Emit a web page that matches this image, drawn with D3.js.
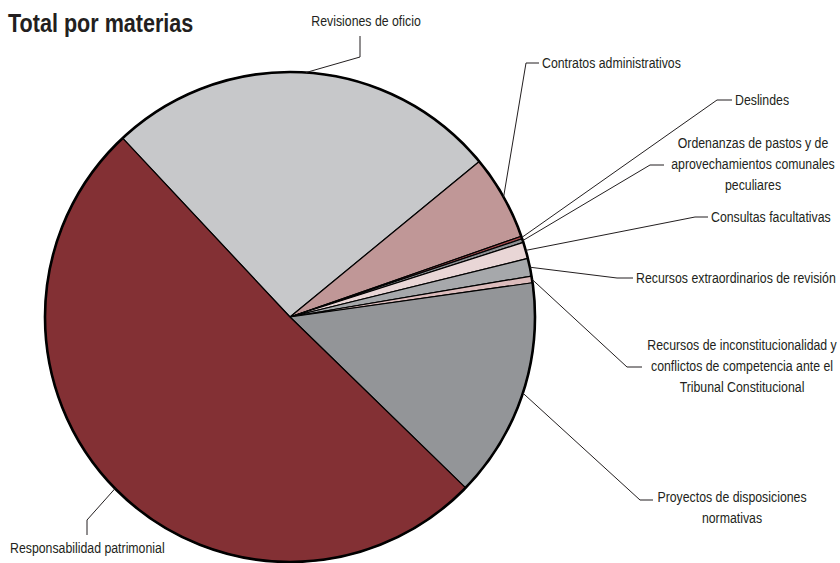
<!DOCTYPE html>
<html>
<head>
<meta charset="utf-8">
<script src="https://cdn.jsdelivr.net/npm/d3@7/dist/d3.min.js"></script>
<style>
  html, body { margin: 0; padding: 0; background: #ffffff; }
  svg { display: block; }
  text { font-family: "Liberation Sans Narrow", "Arial Narrow", "Liberation Sans", sans-serif; fill: #231f20; }
</style>
</head>
<body>
<svg id="chart" width="840" height="563"></svg>
<script>
// ---- Data ----
const categories = [
  "Revisiones de oficio",
  "Contratos administrativos",
  "Deslindes",
  "Ordenanzas de pastos y de aprovechamientos comunales peculiares",
  "Consultas facultativas",
  "Recursos extraordinarios de revisión",
  "Recursos de inconstitucionalidad y conflictos de competencia ante el Tribunal Constitucional",
  "Proyectos de disposiciones normativas",
  "Responsabilidad patrimonial"
];
const values = [26.0, 5.6, 0.17, 0.25, 1.08, 1.17, 0.44, 14.5, 50.7];
const labelLines = [
  ["Revisiones de oficio"],
  ["Contratos administrativos"],
  ["Deslindes"],
  ["Ordenanzas de pastos y de", "aprovechamientos comunales", "peculiares"],
  ["Consultas facultativas"],
  ["Recursos extraordinarios de revisión"],
  ["Recursos de inconstitucionalidad y", "conflictos de competencia ante el", "Tribunal Constitucional"],
  ["Proyectos de disposiciones", "normativas"],
  ["Responsabilidad patrimonial"]
];
const title = "Total por materias";

// ---- Styles / layout ----
const colors = ["#c7c8ca", "#c09797", "#a3474a", "#8e9093", "#e9d6d6", "#a6a8ab", "#dcbcbc", "#939598", "#833034"];
const cx = 290, cy = 317, R = 245;
const startDeg = -43.1;
const narrow = 0.85;      // horizontal condensing of label text
const titleNarrow = 0.83;

// leader line layout: elbow points and text anchor
const labelLayout = [
  { pts: [[360, 57], [360, 36]], tx: 366, ty: 26, anchor: "middle" },
  { pts: [[526, 63], [539, 63]], tx: 542, ty: 68, anchor: "start" },
  { pts: [[717, 100], [732, 100]], tx: 735, ty: 105, anchor: "start" },
  { pts: [[650, 165], [664, 165]], tx: 753, ty: 148, anchor: "middle" },
  { pts: [[695, 217], [708, 217]], tx: 711, ty: 222, anchor: "start" },
  { pts: [[617, 278], [633, 278]], tx: 636, ty: 283, anchor: "start" },
  { pts: [[627, 367], [642, 367]], tx: 742, ty: 350, anchor: "middle" },
  { pts: [[640, 500], [653, 500]], tx: 732, ty: 502, anchor: "middle" },
  { pts: [[87, 520], [87, 535]], tx: 10, ty: 553, anchor: "start" }
];
const lineHeight = 21;

const svg = d3.select("#chart");

svg.append("text")
  .attr("transform", `translate(8,32) scale(${titleNarrow},1)`)
  .style("font-size", "26px").style("font-weight", "bold")
  .text(title);

const data = categories.map((c, i) => ({ name: c, value: values[i], i }));

const pie = d3.pie().sort(null).value(d => d.value)
  .startAngle(startDeg * Math.PI / 180)
  .endAngle(startDeg * Math.PI / 180 + 2 * Math.PI);
const arcs = pie(data);

const arc = d3.arc().innerRadius(0).outerRadius(R);
const rimArc = d3.arc().innerRadius(R).outerRadius(R);

const g = svg.append("g").attr("transform", `translate(${cx},${cy})`);

g.selectAll("path.slice").data(arcs).enter().append("path")
  .attr("class", "slice")
  .attr("d", arc)
  .attr("fill", d => colors[d.data.i])
  .attr("stroke", "#000")
  .attr("stroke-width", 1.2)
  .attr("stroke-linejoin", "round");

g.append("circle").attr("r", R).attr("fill", "none")
  .attr("stroke", "#000").attr("stroke-width", 2.6);

// leader lines
const line = d3.line();
arcs.forEach(a => {
  const i = a.data.i;
  const c = rimArc.centroid(a);
  const p0 = [cx + c[0], cy + c[1]];
  const L = labelLayout[i];
  svg.append("path")
    .attr("d", line([p0, ...L.pts]))
    .attr("fill", "none").attr("stroke", "#231f20").attr("stroke-width", 1);
  const t = svg.append("text")
    .attr("transform", `translate(${L.tx},${L.ty}) scale(${narrow},1)`)
    .attr("text-anchor", L.anchor)
    .style("font-size", "14.5px");
  labelLines[i].forEach((s, k) => {
    t.append("tspan").attr("x", 0).attr("y", k * lineHeight).text(s);
  });
});
</script>
</body>
</html>
